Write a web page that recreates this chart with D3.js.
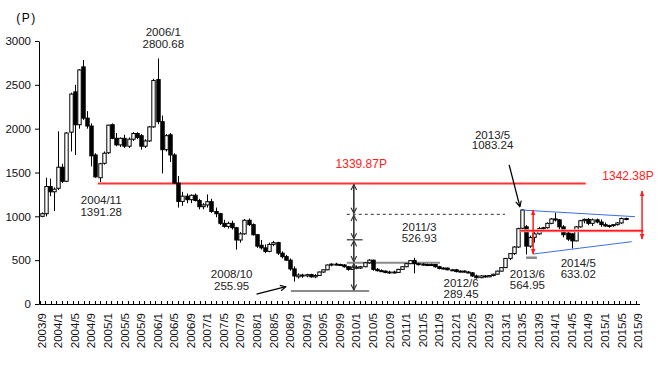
<!DOCTYPE html>
<html>
<head>
<meta charset="utf-8">
<script src="https://cdn.jsdelivr.net/npm/d3@7"></script>
<style>
  body { margin: 0; background: #fff; }
  text { font-family: "Liberation Sans", Arial, sans-serif; }
</style>
</head>
<body>
<svg width="663" height="374"></svg>
<script>
"use strict";

// monthly candles, 2003/9 .. 2015/6
const open = [1000,1030,1340,1280,1320,1560,1400,1960,2420,2045,2705,2120,2030,1700,1440,1605,1725,2045,1890,1815,
  1890,1800,1880,1945,1920,1800,1860,2020,2560,2080,1760,1930,1700,1380,1170,1230,1190,1240,1180,1110,
  1130,1167,1055,1030,920,885,920,870,730,800,955,905,790,670,640,600,680,700,580,540,
  500,400,310,330,320,335,310,325,365,390,445,455,450,445,425,395,420,410,425,470,
  500,395,380,375,360,365,360,395,425,460,495,460,455,450,445,450,425,405,410,390,
  390,370,375,365,355,320,300,320,310,325,340,375,415,520,575,650,864,880,660,760,
  800,860,870,920,970,960,880,810,800,720,880,950,965,920,960,935,905,890,895,905,
  925,975];
const high = [1045,1440,1430,1330,1970,1600,1960,2410,2500,2680,2784,2200,2060,1720,1610,1740,2045,2060,1950,1900,
  1930,1900,1960,1960,1940,1880,2030,2570,2800.68,2150,1940,1950,1720,1460,1280,1260,1250,1260,1200,1150,
  1250,1200,1100,1040,960,940,950,880,820,970,975,920,800,730,680,700,720,710,600,560,
  520,430,350,345,345,345,340,370,395,450,465,470,460,455,435,430,440,435,475,510,
  505,410,395,385,380,380,400,430,465,500,526.93,470,465,460,460,455,435,420,415,400,
  400,385,385,375,365,335,330,330,330,345,380,420,525,580,660,870,1083.24,900,780,830,
  880,880,930,980,1040,970,900,830,810,890,960,975,980,975,975,965,930,905,910,935,
  985,985];
const low = [990,1000,1230,1060,1300,1380,1390,1740,1700,2000,2100,2000,1570,1440,1391.28,1590,1710,1880,1800,1790,
  1780,1780,1860,1880,1760,1780,1850,2010,2050,1490,1740,1620,1370,1100,1120,1150,1150,1170,1080,1080,
  1100,1040,990,900,870,860,850,620,700,790,890,780,640,620,580,590,660,560,520,490,
  380,255.95,290,300,305,300,295,320,355,385,430,440,435,415,380,390,400,400,420,460,
  380,370,365,350,345,350,355,390,420,455,350,440,440,435,435,415,395,395,385,380,
  360,360,360,350,310,289.45,295,300,305,315,335,370,410,500,560,640,850,564.95,640,700,
  790,830,860,910,940,850,760,720,633.02,715,870,920,900,890,920,880,880,870,880,895,
  915,955];
const close = [1030,1340,1280,1310,1560,1400,1950,2395,2045,2670,2120,2030,1690,1450,1600,1720,2040,1890,1815,1890,
  1800,1880,1945,1900,1800,1860,2020,2550,2080,1760,1920,1700,1380,1170,1230,1190,1240,1180,1110,1130,
  1167,1055,1030,920,885,920,870,730,800,955,905,790,660,640,600,680,700,580,540,500,
  400,320,330,320,335,310,325,365,390,445,455,450,445,425,395,420,410,425,470,500,
  395,380,375,360,365,360,395,425,460,495,460,455,450,445,450,425,405,410,390,390,
  370,375,365,355,320,300,320,310,325,340,375,415,520,575,650,860,1072,660,760,800,
  860,870,920,970,960,880,790,740,720,880,950,965,920,960,935,905,890,895,905,925,
  975,965];

const yTicks = [0, 500, 1000, 1500, 2000, 2500, 3000];
const xTickLabels = ["2003/9","2004/1","2004/5","2004/9","2005/1","2005/5","2005/9","2006/1","2006/5","2006/9",
  "2007/1","2007/5","2007/9","2008/1","2008/5","2008/9","2009/1","2009/5","2009/9","2010/1","2010/5","2010/9",
  "2011/1","2011/5","2011/9","2012/1","2012/5","2012/9","2013/1","2013/5","2013/9","2014/1","2014/5","2014/9",
  "2015/1","2015/5","2015/9"];

// annotations: [line1, line2, month index, value at first baseline, line gap]
const notes = [
  ["2006/1", "2800.68", 29.4, 3053, 12],
  ["2004/11", "1391.28", 14.4, 1144, 12.5],
  ["2008/10", "255.95", 45.9, 294, 11.5],
  ["2011/3", "526.93", 91.2, 836, 11.5],
  ["2012/6", "289.45", 101.3, 198, 11],
  ["2013/5", "1083.24", 108.9, 1885, 10.5],
  ["2013/6", "564.95", 117.3, 297, 11],
  ["2014/5", "633.02", 129.6, 419, 11]
];

const svg = d3.select('svg');

const x = d3.scaleLinear().domain([-0.5, 144.5]).range([39.5, 640]);
const y = d3.scaleLinear().domain([0, 3000]).range([304, 41]);
const candleWidth = 3.4;

const defs = svg.append('defs');
const openHead = (id, color) => defs.append('marker')
  .attr('id', id).attr('viewBox', '0 0 10 10').attr('refX', 9).attr('refY', 5)
  .attr('markerWidth', 7).attr('markerHeight', 7).attr('markerUnits', 'userSpaceOnUse')
  .attr('orient', 'auto-start-reverse')
  .append('path').attr('d', 'M1,1 L9,5 L1,9').attr('fill', 'none')
  .attr('stroke', color).attr('stroke-width', 1.6);
openHead('headDark', '#333');
openHead('headBlack', '#000');
defs.append('marker')
  .attr('id', 'headRed').attr('viewBox', '0 0 10 10').attr('refX', 9).attr('refY', 5)
  .attr('markerWidth', 6).attr('markerHeight', 8).attr('markerUnits', 'userSpaceOnUse')
  .attr('orient', 'auto-start-reverse')
  .append('path').attr('d', 'M0,1 L10,5 L0,9 Z').attr('fill', '#ff2020');

// y axis
const yAxis = svg.append('g')
  .attr('transform', 'translate(39,0)')
  .call(d3.axisLeft(y).tickValues(yTicks).tickSize(4).tickSizeOuter(0).tickPadding(4).tickFormat(d3.format('d')));
yAxis.select('.domain').attr('stroke', '#000');
yAxis.selectAll('text').attr('font-family', 'DejaVu Sans').attr('font-size', 11.5).attr('fill', '#111');

svg.append('text')
  .attr('x', 26.5).attr('y', 22)
  .attr('text-anchor', 'middle')
  .attr('font-family', 'DejaVu Sans').attr('font-size', 12).attr('letter-spacing', 1.5)
  .text('(P)');

// x axis
const xAxis = svg.append('g');
xAxis.append('line')
  .attr('x1', x(-0.5)).attr('x2', x(144.5)).attr('y1', y(0) + 0.5).attr('y2', y(0) + 0.5)
  .attr('stroke', '#000');
xAxis.selectAll('line.tick')
  .data(d3.range(0, 109))
  .join('line')
  .attr('class', 'tick')
  .attr('x1', d => Math.round(x(-0.5 + d * 4 / 3)) + 0.5)
  .attr('x2', d => Math.round(x(-0.5 + d * 4 / 3)) + 0.5)
  .attr('y1', y(0) + 0.5).attr('y2', y(0) - 3)
  .attr('stroke', '#000');
xAxis.selectAll('text')
  .data(xTickLabels)
  .join('text')
  .attr('transform', (d, i) => `translate(${x(i * 4)}, ${y(0) + 9}) rotate(-90)`)
  .attr('text-anchor', 'end')
  .attr('dy', '0.36em')
  .attr('font-family', 'DejaVu Sans').attr('font-size', 11.5).attr('fill', '#111')
  .text(d => d);

// reference lines behind candles
const g = svg.append('g');
g.append('line')
  .attr('x1', x(13.6)).attr('x2', x(131.4)).attr('y1', y(1375)).attr('y2', y(1375))
  .attr('stroke', '#ff3333').attr('stroke-width', 2);
g.append('line')
  .attr('x1', x(73.7)).attr('x2', x(111.9)).attr('y1', y(1023)).attr('y2', y(1023))
  .attr('stroke', '#333').attr('stroke-dasharray', '3,3');
g.append('line')
  .attr('x1', x(73.7)).attr('x2', x(96.2)).attr('y1', y(471)).attr('y2', y(471))
  .attr('stroke', '#8a8a8a').attr('stroke-width', 2);
g.append('line')
  .attr('x1', x(73.7)).attr('x2', x(77.5)).attr('y1', y(733)).attr('y2', y(733))
  .attr('stroke', '#555').attr('stroke-width', 1.5);
g.append('line')
  .attr('x1', x(60.2)).attr('x2', x(79.1)).attr('y1', y(148)).attr('y2', y(148))
  .attr('stroke', '#8a8a8a').attr('stroke-width', 2);
g.append('line')
  .attr('x1', x(117)).attr('x2', x(119.6)).attr('y1', y(528)).attr('y2', y(528))
  .attr('stroke', '#8a8a8a').attr('stroke-width', 2.5);

// candles
const candles = svg.append('g')
  .selectAll('g')
  .data(d3.range(open.length))
  .join('g');
candles.append('line')
  .attr('x1', i => Math.round(x(i)) + 0.5).attr('x2', i => Math.round(x(i)) + 0.5)
  .attr('y1', i => y(high[i])).attr('y2', i => y(low[i]))
  .attr('stroke', '#000');
candles.append('rect')
  .attr('x', i => Math.round(x(i)) + 0.5 - candleWidth / 2)
  .attr('width', candleWidth)
  .attr('y', i => y(Math.max(open[i], close[i])))
  .attr('height', i => Math.max(1, Math.abs(y(open[i]) - y(close[i]))))
  .attr('fill', i => close[i] >= open[i] ? '#fff' : '#000')
  .attr('stroke', '#000').attr('stroke-width', 1);

// overlays on top of candles
const overlay = svg.append('g');
overlay.append('line')
  .attr('x1', x(115.5)).attr('x2', x(145.3)).attr('y1', y(836)).attr('y2', y(836))
  .attr('stroke', '#ffb0b0').attr('stroke-width', 3);
overlay.append('line')
  .attr('x1', x(115.5)).attr('x2', x(145.3)).attr('y1', y(836)).attr('y2', y(836))
  .attr('stroke', '#ff1a1a').attr('stroke-width', 1.5);
overlay.append('line')
  .attr('x1', x(115.9)).attr('x2', x(143.3)).attr('y1', y(1072)).attr('y2', y(996))
  .attr('stroke', '#3a6fe0').attr('stroke-width', 1);
overlay.append('line')
  .attr('x1', x(118.7)).attr('x2', x(142.5)).attr('y1', y(570)).attr('y2', y(711))
  .attr('stroke', '#3a6fe0').attr('stroke-width', 1);
[[118.7, 1072, 570], [145.0, 1289, 741]].forEach(([m, a, b]) => {
  overlay.append('line')
    .attr('x1', x(m)).attr('x2', x(m)).attr('y1', y(a)).attr('y2', y(b))
    .attr('stroke', '#ff2020').attr('stroke-width', 1.5)
    .attr('marker-start', 'url(#headRed)').attr('marker-end', 'url(#headRed)');
});

// measuring arrows
const levels = [1375, 1023, 733, 471, 148];
d3.pairs(levels).forEach(([a, b]) => {
  overlay.append('line')
    .attr('x1', x(75.4)).attr('x2', x(75.4)).attr('y1', y(a) + 1).attr('y2', y(b) - 1)
    .attr('stroke', '#333').attr('stroke-width', 1.6)
    .attr('marker-start', 'url(#headDark)').attr('marker-end', 'url(#headDark)');
});

overlay.append('line')
  .attr('x1', x(51.9)).attr('y1', y(114)).attr('x2', x(59.0)).attr('y2', y(197))
  .attr('stroke', '#000').attr('stroke-width', 1.3).attr('marker-end', 'url(#headBlack)');
overlay.append('line')
  .attr('x1', x(112.9)).attr('y1', y(1586)).attr('x2', x(115.5)).attr('y2', y(1110))
  .attr('stroke', '#000').attr('stroke-width', 1.3).attr('marker-end', 'url(#headBlack)');

// text labels
const labels = overlay.selectAll('text.note')
  .data(notes)
  .join('text')
  .attr('class', 'note')
  .attr('text-anchor', 'middle')
  .attr('font-size', 11.5)
  .attr('fill', '#222');
labels.append('tspan').attr('x', d => x(d[2])).attr('y', d => y(d[3])).text(d => d[0]);
labels.append('tspan').attr('x', d => x(d[2])).attr('y', d => y(d[3]) + d[4]).text(d => d[1]);

overlay.append('text')
  .attr('x', x(77.2)).attr('y', y(1546))
  .attr('text-anchor', 'middle').attr('font-size', 12).attr('fill', '#ff2020')
  .text('1339.87P');
overlay.append('text')
  .attr('x', x(141.6)).attr('y', y(1414))
  .attr('text-anchor', 'middle').attr('font-size', 12).attr('fill', '#ff2020')
  .text('1342.38P');
</script>
</body>
</html>
